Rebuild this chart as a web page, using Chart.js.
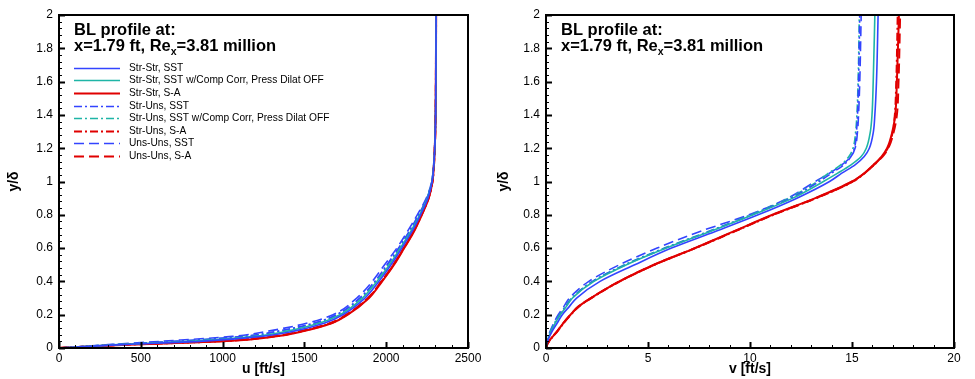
<!DOCTYPE html>
<html>
<head>
<meta charset="utf-8">
<script src="https://cdn.jsdelivr.net/npm/chart.js@4/dist/chart.umd.min.js"></script>
<style>
  body { margin: 0; background: #fff; }
  .panel { position: absolute; top: 0; }
</style>
</head>
<body>
<div class="panel" style="left:0"><canvas id="uChart" width="490" height="379"></canvas></div>
<div class="panel" style="left:490px"><canvas id="vChart" width="485" height="379"></canvas></div>
<script>
// wall-normal stations (y/delta) for the u and v profiles
const yLeft = [0, 0.01, 0.02, 0.04, 0.07, 0.1, 0.15, 0.2, 0.3, 0.4, 0.5, 0.6, 0.7, 0.8, 0.9, 1.0, 1.1, 1.2, 1.4, 2.0];
const yRight = [0, 0.02, 0.05, 0.1, 0.15, 0.2, 0.25, 0.3, 0.4, 0.5, 0.6, 0.7, 0.8, 0.9, 1.0, 1.05, 1.1, 1.15, 1.2, 1.3, 1.4, 1.6, 2.0];

// u [ft/s]
const uStrStrSST   = [0, 180, 380, 860, 1240, 1430, 1625, 1735, 1870, 1955, 2030, 2095, 2158, 2210, 2255, 2281, 2291, 2297, 2302, 2305];
const uStrStrSSTcc = [0, 170, 360, 800, 1200, 1390, 1595, 1718, 1855, 1943, 2020, 2086, 2150, 2205, 2252, 2280, 2291, 2297, 2302, 2305];
const uStrStrSA    = [0, 200, 420, 1000, 1330, 1490, 1670, 1765, 1895, 1975, 2048, 2110, 2170, 2218, 2260, 2283, 2292, 2297, 2302, 2305];
const uStrUnsSST   = [0, 160, 330, 700, 1130, 1330, 1560, 1695, 1838, 1930, 2005, 2075, 2140, 2198, 2249, 2279, 2290, 2296, 2302, 2305];
const uStrUnsSSTcc = [0, 160, 335, 720, 1145, 1345, 1570, 1702, 1843, 1935, 2010, 2079, 2143, 2200, 2250, 2279, 2290, 2296, 2302, 2305];
const uStrUnsSA    = [0, 195, 410, 980, 1320, 1480, 1665, 1760, 1890, 1972, 2045, 2108, 2168, 2217, 2259, 2283, 2292, 2297, 2302, 2305];
const uUnsUnsSST   = [0, 150, 300, 620, 1060, 1270, 1520, 1675, 1820, 1915, 1990, 2065, 2130, 2190, 2245, 2278, 2290, 2296, 2302, 2305];
const uUnsUnsSA    = [0, 190, 400, 960, 1310, 1470, 1660, 1755, 1888, 1970, 2043, 2106, 2166, 2215, 2258, 2282, 2292, 2297, 2302, 2305];

// v [ft/s]
const vStrStrSST   = [0, 0.02, 0.1, 0.3, 0.55, 0.8, 1.15, 1.5, 2.65, 4.35, 6.15, 8.3, 10.4, 12.3, 13.9, 14.5, 15.15, 15.6, 15.85, 16.05, 16.12, 16.2, 16.28];
const vStrStrSSTcc = [0, 0.02, 0.08, 0.25, 0.45, 0.7, 1.0, 1.3, 2.35, 3.95, 5.9, 8.05, 10.15, 12.1, 13.6, 14.3, 14.95, 15.45, 15.7, 15.9, 15.98, 16.04, 16.12];
const vStrStrSA    = [0, 0.05, 0.2, 0.55, 0.85, 1.2, 1.6, 2.2, 3.6, 5.3, 7.3, 9.2, 11.1, 13.2, 15.0, 15.6, 16.05, 16.45, 16.72, 16.98, 17.12, 17.2, 17.3];
const vStrUnsSST   = [0, 0.02, 0.08, 0.24, 0.44, 0.68, 0.97, 1.28, 2.3, 3.9, 5.85, 8.0, 10.1, 12.0, 13.4, 14.0, 14.6, 14.95, 15.12, 15.22, 15.27, 15.32, 15.38];
const vStrUnsSSTcc = [0, 0.02, 0.07, 0.22, 0.42, 0.66, 0.95, 1.25, 2.28, 3.85, 5.8, 7.95, 10.05, 11.9, 13.3, 13.85, 14.45, 14.85, 15.05, 15.18, 15.24, 15.3, 15.36];
const vStrUnsSA    = [0, 0.05, 0.21, 0.56, 0.87, 1.22, 1.62, 2.22, 3.62, 5.32, 7.33, 9.25, 11.15, 13.25, 15.05, 15.62, 16.08, 16.47, 16.75, 17.0, 17.1, 17.17, 17.24];
const vUnsUnsSST   = [0, 0.01, 0.06, 0.2, 0.38, 0.6, 0.88, 1.15, 2.1, 3.6, 5.45, 7.55, 9.95, 11.85, 13.2, 13.9, 14.5, 14.95, 15.15, 15.27, 15.32, 15.38, 15.45];
const vUnsUnsSA    = [0, 0.05, 0.2, 0.54, 0.85, 1.2, 1.6, 2.2, 3.6, 5.3, 7.3, 9.22, 11.12, 13.22, 15.02, 15.62, 16.08, 16.5, 16.78, 17.05, 17.2, 17.28, 17.36];

const seriesNames = [
  "Str-Str, SST",
  "Str-Str, SST w/Comp Corr, Press Dilat OFF",
  "Str-Str, S-A",
  "Str-Uns, SST",
  "Str-Uns, SST w/Comp Corr, Press Dilat OFF",
  "Str-Uns, S-A",
  "Uns-Uns, SST",
  "Uns-Uns, S-A",
];

// axis ticks
const uTicks = [0, 500, 1000, 1500, 2000, 2500];
const vTicks = [0, 5, 10, 15, 20];
const yTicks = [0, 0.2, 0.4, 0.6, 0.8, 1, 1.2, 1.4, 1.6, 1.8, 2];

const BLUE = "#3344ff";
const CYAN = "#1fb5a6";
const RED = "#e00000";
const SOLID = [];
const DASHDOT = [8, 3, 2, 3];
const DASHED = [10, 5];

const styles = [
  { color: BLUE, dash: SOLID },
  { color: CYAN, dash: SOLID },
  { color: RED, dash: SOLID },
  { color: BLUE, dash: DASHDOT },
  { color: CYAN, dash: DASHDOT },
  { color: RED, dash: DASHDOT },
  { color: BLUE, dash: DASHED },
  { color: RED, dash: DASHED },
];

const uSeries = [uStrStrSST, uStrStrSSTcc, uStrStrSA, uStrUnsSST, uStrUnsSSTcc, uStrUnsSA, uUnsUnsSST, uUnsUnsSA];
const vSeries = [vStrStrSST, vStrStrSSTcc, vStrStrSA, vStrUnsSST, vStrUnsSSTcc, vStrUnsSA, vUnsUnsSST, vUnsUnsSA];

const FONT = "'Liberation Sans', Arial, Helvetica, sans-serif";
Chart.defaults.font.family = FONT;
Chart.defaults.color = "#000";

const toPoints = (xs, ys) => xs.map((x, i) => ({ x: x, y: ys[i] }));

const makeDatasets = (allX, ys) =>
  allX.map((xs, i) => ({
    label: seriesNames[i],
    data: toPoints(xs, ys),
    borderColor: styles[i].color,
    borderDash: styles[i].dash,
    borderWidth: styles[i].color === RED ? 2 : 1.6,
    pointRadius: 0,
    showLine: true,
    fill: false,
    cubicInterpolationMode: "monotone",
  }));

// frame, inward major/minor ticks, title block and (optionally) legend
const decorations = {
  id: "decorations",
  afterDatasetsDraw(chart, args, opts) {
    const { ctx, chartArea: a, scales } = chart;
    const xs = scales.x;
    const ys = scales.y;
    ctx.save();
    ctx.strokeStyle = "#000";
    ctx.setLineDash([]);

    const tick = (scale, v, len) => {
      const p = Math.round(scale.getPixelForValue(v)) + 0.5;
      if (scale.axis === "x") {
        ctx.moveTo(p, a.bottom);
        ctx.lineTo(p, a.bottom - len);
      } else {
        ctx.moveTo(a.left, p);
        ctx.lineTo(a.left + len, p);
      }
    };

    ctx.lineWidth = 1;
    ctx.beginPath();
    for (let k = 0; k * opts.xMinor <= xs.max + 1e-9; k++) tick(xs, k * opts.xMinor, 3);
    for (let k = 0; k * opts.yMinor <= ys.max + 1e-9; k++) tick(ys, k * opts.yMinor, 3);
    ctx.stroke();

    ctx.lineWidth = 2;
    ctx.beginPath();
    opts.xTicks.forEach((v) => tick(xs, v, 6));
    yTicks.forEach((v) => tick(ys, v, 6));
    ctx.stroke();

    ctx.strokeRect(a.left, a.top, a.right - a.left, a.bottom - a.top);

    // title block
    const tx = a.left + 15;
    ctx.fillStyle = "#000";
    ctx.textBaseline = "alphabetic";
    ctx.textAlign = "left";
    ctx.font = "bold 16.5px " + FONT;
    ctx.fillText("BL profile at:", tx, a.top + 20);
    let x = tx;
    const base2 = a.top + 35.5;
    const part1 = "x=1.79 ft, Re";
    ctx.fillText(part1, x, base2);
    x += ctx.measureText(part1).width;
    ctx.font = "bold 10.5px " + FONT;
    ctx.fillText("x", x, base2 + 4);
    x += ctx.measureText("x").width;
    ctx.font = "bold 16.5px " + FONT;
    ctx.fillText("=3.81 million", x, base2);

    if (opts.legend) {
      ctx.font = "10.2px " + FONT;
      ctx.textBaseline = "middle";
      chart.data.datasets.forEach((ds, i) => {
        const yy = Math.round(a.top + 52.7 + i * 12.6) + 0.5;
        ctx.strokeStyle = ds.borderColor;
        ctx.lineWidth = ds.borderWidth;
        ctx.setLineDash(ds.borderDash);
        ctx.beginPath();
        ctx.moveTo(a.left + 15, yy);
        ctx.lineTo(a.left + 61, yy);
        ctx.stroke();
        ctx.fillText(ds.label, a.left + 70, yy);
      });
    }
    ctx.restore();
  },
};

const makeChart = (canvasId, allX, ys, xTicks, xMax, xMinor, xTitle, yAxisWidth, padRight, legend) => {
  return new Chart(document.getElementById(canvasId).getContext("2d"), {
    type: "scatter",
    data: { datasets: makeDatasets(allX, ys) },
    options: {
      responsive: false,
      devicePixelRatio: 1,
      animation: false,
      indexAxis: "y",
      layout: { padding: { top: 15, right: padRight, left: 0, bottom: 0 } },
      plugins: {
        legend: { display: false },
        tooltip: { enabled: false },
        decorations: { xTicks: xTicks, xMinor: xMinor, yMinor: 0.04, legend: legend },
      },
      scales: {
        x: {
          type: "linear",
          position: "bottom",
          min: 0,
          max: xMax,
          afterBuildTicks: (s) => { s.ticks = xTicks.map((v) => ({ value: v })); },
          afterFit: (s) => { s.height = 31; },
          grid: { display: false, drawTicks: false },
          border: { display: false },
          ticks: { font: { size: 12 }, padding: 3, callback: (v) => String(v) },
          title: { display: true, text: xTitle, font: { size: 14, weight: "bold" }, padding: { top: 0, bottom: 1 } },
        },
        y: {
          type: "linear",
          position: "left",
          min: 0,
          max: 2,
          afterBuildTicks: (s) => { s.ticks = yTicks.map((v) => ({ value: v })); },
          afterFit: (s) => { s.width = yAxisWidth; },
          grid: { display: false, drawTicks: false },
          border: { display: false },
          ticks: { font: { size: 12 }, padding: 6, callback: (v) => String(+v.toFixed(1)) },
          title: { display: true, text: "y/δ", font: { size: 14, weight: "bold" }, padding: { top: 6, bottom: 0 } },
        },
      },
    },
    plugins: [decorations],
  });
};

makeChart("uChart", uSeries, yLeft, uTicks, 2500, 100, "u [ft/s]", 59, 22, true);
makeChart("vChart", vSeries, yRight, vTicks, 20, 1, "v [ft/s]", 56, 21, false);
</script>
</body>
</html>
